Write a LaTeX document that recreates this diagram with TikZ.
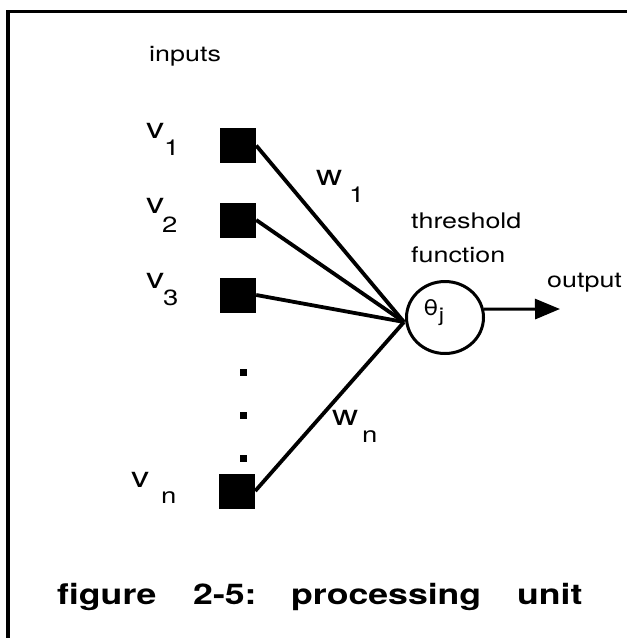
\documentclass[tikz,border=0pt]{standalone}
\usepackage{fontspec}
\setmainfont{TeX Gyre Heros}
\usetikzlibrary{arrows.meta,shapes.geometric}
\newcommand\sxx[1]{\scalebox{1.25}[1]{#1}}
\begin{document}
\begin{tikzpicture}[x=1pt,y=-1pt,
  lbl/.style={anchor=base west,inner sep=0pt,font=\fontsize{21.5}{24}\selectfont},
  big/.style={anchor=base west,inner sep=0pt,font=\fontsize{29}{32}\selectfont},
  sub/.style={anchor=base west,inner sep=0pt,font=\fontsize{22}{24}\selectfont},
  captext/.style={anchor=base west,inner sep=0pt,font=\bfseries\fontsize{28.5}{32}\selectfont},
  inbox/.style={rectangle,fill=black,minimum width=36pt,minimum height=35pt,inner sep=0pt},
  dotbox/.style={rectangle,fill=black,minimum size=7pt,inner sep=0pt},
  wire/.style={line width=3.8pt},
  unit/.style={ellipse,draw,line width=3pt,minimum width=77pt,minimum height=72pt,inner sep=0pt},
]
\useasboundingbox (0,0) rectangle (627,638);
\clip (0,0) rectangle (627,638);
\fill[white] (0,0) rectangle (627,638);
% frame
\draw[line width=3.5pt] (8,700) -- (8,11.5) -- (700,11.5);

% texts
\node[lbl] (inputs) at (149,61) {\sxx{inputs}};
\node[lbl] (thr) at (411,228.5) {\sxx{threshold}};
\node[lbl] (fun) at (411,262) {\sxx{function}};
\node[lbl] (out) at (547,287) {\sxx{output}};

% input boxes
\node[inbox] (s1) at (238,145.5) {};
\node[inbox] (s2) at (238,220) {};
\node[inbox] (s3) at (238,295) {};
\node[inbox] (sn) at (237,491) {};
\node[dotbox] (d1) at (243.5,372) {};
\node[dotbox] (d2) at (243.5,415.5) {};
\node[dotbox] (d3) at (243.5,458) {};

% v labels
\node[big] (v1) at (146,138) {\sxx{v}};
\node[sub] (v1s) at (164,155) {\sxx{1}};
\node[big] (v2) at (146,213) {\sxx{v}};
\node[sub] (v2s) at (162,232) {\sxx{2}};
\node[big] (v3) at (146,288) {\sxx{v}};
\node[sub] (v3s) at (163,305) {\sxx{3}};
\node[big] (vn) at (131,487) {\sxx{v}};
\node[sub] (vns) at (161,503) {\sxx{n}};

% w labels
\node[big] (w1) at (316,185) {\sxx{w}};
\node[sub] (w1s) at (349,202) {\sxx{1}};
\node[big] (wn) at (332,425) {\sxx{w}};
\node[sub] (wns) at (362,442) {\sxx{n}};

% unit
\node[unit] (th) at (445,317.5) {};
\node[lbl] (theta) at (423,315) {\sxx{θ\raisebox{-6pt}{\fontsize{19}{20}\selectfont j}}};
\coordinate (conv) at (404,322);
\coordinate (outtip) at (560,309);

% wires
\draw[wire] (s1.east) -- (conv);
\draw[wire] (s2.east) -- (conv);
\draw[wire] (s3.east) -- (conv);
\draw[wire] (sn.east) -- (conv);
\draw[line width=3pt,-{Triangle[length=25pt,width=20pt]}] (th.12) -- (outtip);

% caption
\node[captext] (c1) at (57,604) {\sxx{figure}};
\node[captext] (c2) at (193,604) {\sxx{2-5:}};
\node[captext] (c3) at (291,604) {\sxx{processing}};
\node[captext] (c4) at (517,604) {\sxx{unit}};
\end{tikzpicture}
\end{document}
